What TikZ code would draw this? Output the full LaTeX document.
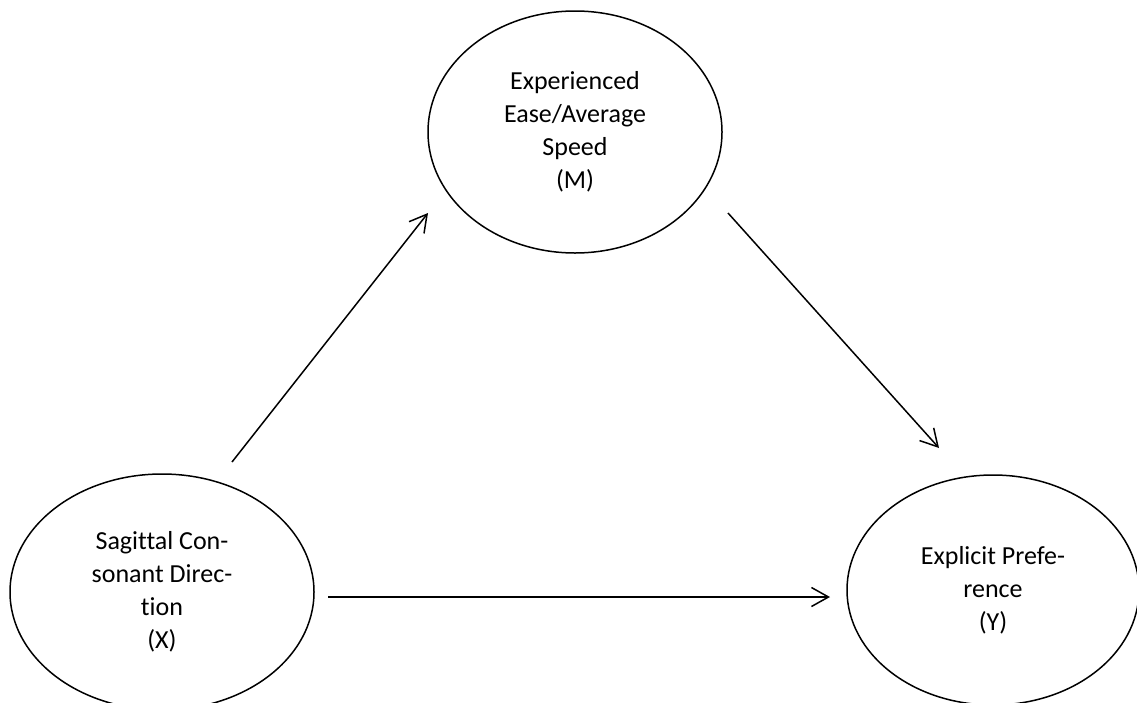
\documentclass[tikz,border=0pt]{standalone}
\usepackage{fontspec}
\setmainfont{Carlito}[Ligatures=NoCommon]
\usetikzlibrary{arrows.meta,shapes.geometric}
\begin{document}
\begin{tikzpicture}[x=1pt,y=-1pt,
  var/.style={draw, line width=1.5pt, ellipse, inner sep=0pt, align=center,
    font=\fontsize{26}{33}\selectfont},
  link/.style={line width=1.5pt,
    -{Straight Barb[length=17pt,width=19pt,line width=1.5pt]}}]
\useasboundingbox[fill=white] (0,0) rectangle (1137,702);

% variables of the mediation model
\node[var, minimum width=304pt, minimum height=236pt] (X) at (162,592)
  {Sagittal Con-\\sonant Direc-\\tion\\(X)};
\node[var, minimum width=294pt, minimum height=242pt] (M) at (575,132)
  {Experienced\\Ease/Average\\Speed\\(M)};
\node[var, minimum width=292pt, minimum height=230pt] (Y) at (993,590)
  {Explicit Prefe-\\rence\\(Y)};

% free ends of the paths
\coordinate (xm-tail) at (232,462);
\coordinate (xm-head) at (428,213);
\coordinate (my-tail) at (728,213);
\coordinate (my-head) at (939,448);
\coordinate (xy-tail) at (328,597);
\coordinate (xy-head) at (830,597);

\draw[link] (xm-tail) -- (xm-head);
\draw[link] (my-tail) -- (my-head);
\draw[link] (xy-tail) -- (xy-head);
\end{tikzpicture}
\end{document}
